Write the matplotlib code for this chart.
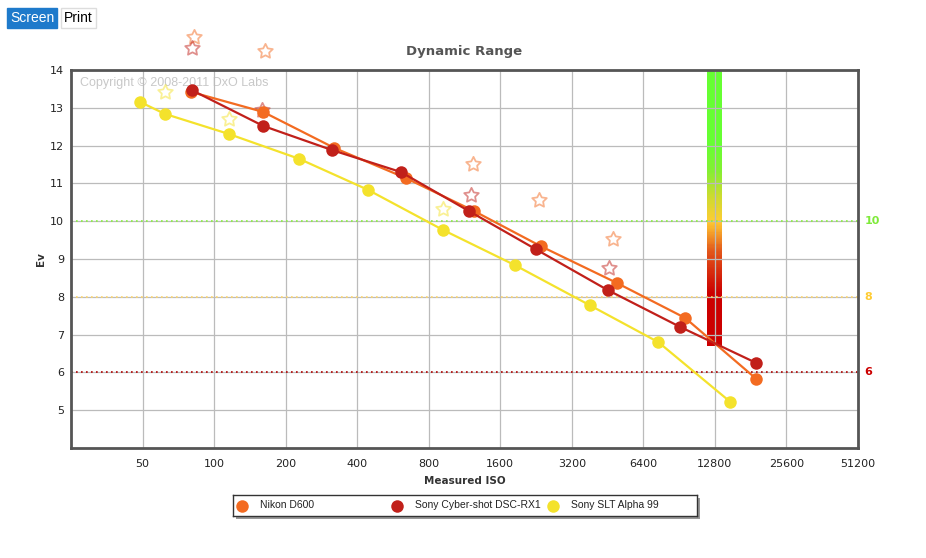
import numpy as np
import matplotlib
matplotlib.use("Agg")
import matplotlib.pyplot as plt
from matplotlib.colors import LinearSegmentedColormap
from matplotlib.patches import Rectangle
from matplotlib.path import Path
import matplotlib.transforms as mtransforms

# Data (screen values)
cameras = ["Nikon D600", "Sony Cyber-shot DSC-RX1", "Sony SLT Alpha 99"]
colors = ["#F36B21", "#C1201A", "#F4E22C"]

d600_iso = [80, 161, 320, 641, 1240, 2366, 4935, 9600, 19100]
d600_ev = [13.42, 12.89, 11.94, 11.14, 10.27, 9.34, 8.37, 7.44, 5.83]

rx1_iso = [81, 161, 314, 611, 1180, 2255, 4525, 9160, 19100]
rx1_ev = [13.46, 12.52, 11.88, 11.30, 10.27, 9.26, 8.18, 7.20, 6.25]

a99_iso = [49, 62, 115, 228, 444, 918, 1840, 3800, 7400, 14860]
a99_ev = [13.15, 12.84, 12.31, 11.65, 10.83, 9.77, 8.84, 7.78, 6.80, 5.22]

# faded stars (print values shown in the background)
d600_star_iso = [82, 164, 1229, 2325, 4780]
d600_star_ev = [14.87, 14.50, 11.51, 10.56, 9.53]
rx1_star_iso = [81, 159, 1200, 4570]
rx1_star_ev = [14.58, 12.94, 10.69, 8.76]
a99_star_iso = [62, 116, 920]
a99_star_ev = [13.42, 12.70, 10.32]

iso_ticks = [50, 100, 200, 400, 800, 1600, 3200, 6400, 12800, 25600, 51200]
ev_ticks = [5, 6, 7, 8, 9, 10, 11, 12, 13, 14]

# reference levels on the right side
ref_levels = [10, 8, 6]
ref_colors = ["#7FEA3A", "#FFCC33", "#CC0000"]
line_colors = ["#88F040", "#FFD66A", "#B00000"]

# quality bar at ISO 12800
bar_iso = 12800
bar_bottom = 6.7
bar_top = 14

fig = plt.figure(figsize=(9.26, 5.58), dpi=100)
ax = fig.add_axes([71/926, 1-448/558, 787/926, 378/558])

ax.set_xscale("log", base=2)
ax.set_xlim(25, 51200)
ax.set_ylim(4, 14)
ax.set_xticks(iso_ticks)
ax.set_xticklabels([str(t) for t in iso_ticks])
ax.set_yticks(ev_ticks)
ax.set_yticklabels([str(t) for t in ev_ticks])
ax.xaxis.set_minor_locator(matplotlib.ticker.NullLocator())
ax.tick_params(axis="x", length=0, labelsize=8, pad=8, colors="#222222")
ax.tick_params(axis="y", length=0, labelsize=8, pad=5, colors="#222222")
ax.grid(True, color="#BBBBBB", linewidth=0.9)
for s in ax.spines.values():
    s.set_color("#555555")
    s.set_linewidth(2)

# gradient bar
def ev_pos(v):
    return (v - bar_bottom) / (bar_top - bar_bottom)

cmap = LinearSegmentedColormap.from_list("dr", [
    (0.0, "#CC0000"), (ev_pos(8.1), "#CC0000"), (ev_pos(9.2), "#E2561A"),
    (ev_pos(9.7), "#F5A02A"), (ev_pos(10.0), "#FFCC33"), (ev_pos(10.7), "#C8DC30"),
    (ev_pos(11.3), "#86EE33"), (ev_pos(12.0), "#66FF33"), (1.0, "#66FF33")])
ys = np.linspace(bar_bottom, bar_top, 300)
xs = [bar_iso * 2**-0.105, bar_iso * 2**0.105]
zz = ev_pos((ys[:-1] + ys[1:]) / 2)
ax.pcolormesh(xs, ys, zz[:, None], cmap=cmap, vmin=0, vmax=1, zorder=1)

# dotted reference lines + right labels
trans = mtransforms.blended_transform_factory(ax.transAxes, ax.transData)
for lev, c, lc in zip(ref_levels, ref_colors, line_colors):
    ax.axhline(lev, color=lc, linestyle=(0, (1, 2)), linewidth=1.2, zorder=1.6)
    ax.text(1.008, lev, str(lev), transform=trans, color=c, fontsize=8,
            fontweight="bold", va="center", ha="left")

# fat outlined star
ang = np.pi / 2 + np.arange(10) * np.pi / 5
rad = np.where(np.arange(10) % 2 == 0, 1.0, 0.5)
verts = np.column_stack([rad * np.cos(ang), rad * np.sin(ang)])
verts = np.vstack([verts, verts[:1]])
star = Path(verts, closed=True)

star_sets = [(d600_star_iso, d600_star_ev), (rx1_star_iso, rx1_star_ev),
             (a99_star_iso, a99_star_ev)]
for (sx, sy), c in zip(star_sets, colors):
    ax.plot(sx, sy, linestyle="none", marker=star, markersize=11,
            markerfacecolor="none", markeredgecolor=c, markeredgewidth=1.3,
            alpha=0.5, clip_on=False, zorder=2)

# series
series = [(d600_iso, d600_ev), (rx1_iso, rx1_ev), (a99_iso, a99_ev)]
for (sx, sy), c in zip(series, colors):
    ax.plot(sx, sy, color=c, linewidth=1.6, marker="o", markersize=9,
            markeredgewidth=0, zorder=3)

ax.text(0.011, 0.965, "Copyright \u00a9 2008-2011 DxO Labs", transform=ax.transAxes,
        color="#C8C8C8", fontsize=9, family="Liberation Sans",
        va="center", ha="left", zorder=0.5)

ax.set_title("Dynamic Range", fontsize=9.5, fontweight="bold", color="#555555", pad=11)
ax.set_xlabel("Measured ISO", fontsize=7.5, fontweight="bold", color="#333333", labelpad=5)
ax.set_ylabel("Ev", fontsize=7.5, fontweight="bold", color="#333333", labelpad=3)

# legend box drawn by hand (fixed-width columns like the original)
shadow = fig.add_axes([236/926, 1-519/558, 464/926, 21/558], zorder=1)
shadow.axis("off")
shadow.add_patch(Rectangle((0, 0), 1, 1, transform=shadow.transAxes,
                           facecolor="#999999", edgecolor="none"))
lax = fig.add_axes([233/926, 1-516/558, 464/926, 21/558], zorder=2)
lax.patch.set_facecolor("white")
lax.set_xlim(0, 464)
lax.set_ylim(0, 21)
lax.set_xticks([])
lax.set_yticks([])
for s in lax.spines.values():
    s.set_color("#333333")
    s.set_linewidth(1)
for i, (name, c) in enumerate(zip(cameras, colors)):
    lax.plot(9 + i * 155.5, 10.5, marker="o", markersize=9, markeredgewidth=0, color=c)
    lax.text(27 + i * 155.5, 11.5, name, fontsize=7.5, family="Liberation Sans",
             color="#222222", va="center", ha="left")

# Screen / Print buttons
fig.text(10/926, 1-18/558, "Screen", fontsize=10, family="Liberation Sans",
         color="white", va="center", ha="left",
         bbox=dict(boxstyle="square,pad=0.22", facecolor="#1E7ACB", edgecolor="#1E7ACB"))
fig.text(64/926, 1-18/558, "Print", fontsize=10, family="Liberation Sans",
         color="black", va="center", ha="left",
         bbox=dict(boxstyle="square,pad=0.22", facecolor="white", edgecolor="#DDDDDD"))

plt.savefig("out.png", dpi=100)
